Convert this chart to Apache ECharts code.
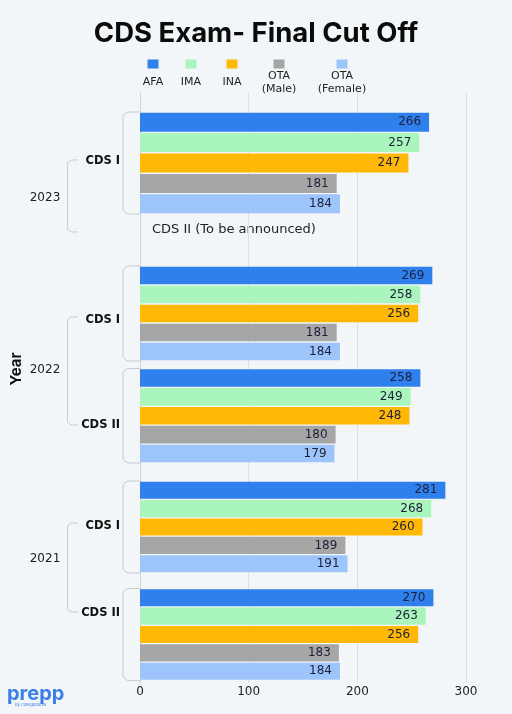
<!DOCTYPE html>
<html>
<head>
<meta charset="utf-8">
<script src="https://cdn.jsdelivr.net/npm/echarts@6/dist/echarts.min.js"></script>
<style>
html,body{margin:0;padding:0;background:#f2f6f9;}
#c{width:512px;height:714px;}
</style>
</head>
<body>
<div id="c"></div>
<script>
// ---- data ----
const groups = ['2023 CDS I', '2022 CDS I', '2022 CDS II', '2021 CDS I', '2021 CDS II'];
const seriesNames = ['AFA', 'IMA', 'INA', 'OTA (Male)', 'OTA (Female)'];
const AFA   = [266, 269, 258, 281, 270];
const IMA   = [257, 258, 249, 268, 263];
const INA   = [247, 256, 248, 260, 256];
const OTA_M = [181, 181, 180, 189, 183];
const OTA_F = [184, 184, 179, 191, 184];
const xTicks = [0, 100, 200, 300];
const years = ['2023', '2022', '2021'];
const examLabels = ['CDS I', 'CDS I', 'CDS II', 'CDS I', 'CDS II'];
const pendingNote = 'CDS II (To be announced)';

// ---- style / layout ----
const values = [AFA, IMA, INA, OTA_M, OTA_F];
const colors = ['#2f80ed', '#a9f5bb', '#ffb904', '#a6a6a6', '#9dc4fb'];
const FONT = 'Inter, "Noto Sans", sans-serif';
const SFONT = '"DejaVu Sans", "Noto Sans", sans-serif';
const PLOT_L = 140, PLOT_R = 46;
const groupBoxes = [[112, 102], [266, 95], [368.5, 94.5], [481, 92], [588.5, 92]];
const legendCenters = [153, 191, 232, 279, 342];

const chart = echarts.init(document.getElementById('c'), null, {renderer: 'canvas', width: 512, height: 714});

const grids = [{left: PLOT_L, right: PLOT_R, top: 93, bottom: 31}];
const xAxes = [{
  gridIndex: 0, type: 'value', min: xTicks[0], max: xTicks[xTicks.length - 1], interval: 100,
  axisLine: {show: false}, axisTick: {show: false},
  axisLabel: {color: '#222', fontSize: 12, fontFamily: SFONT, margin: 3},
  splitLine: {show: true, lineStyle: {color: '#dde1e6', width: 1}}
}];
const yAxes = [{
  gridIndex: 0, type: 'value', min: 0, max: 1,
  axisLine: {show: true, lineStyle: {color: '#cfd4d9'}},
  axisTick: {show: false}, axisLabel: {show: false}, splitLine: {show: false}
}];
const series = [];

groupBoxes.forEach((b, g) => {
  grids.push({left: PLOT_L, right: PLOT_R, top: b[0], height: b[1]});
  xAxes.push({gridIndex: g + 1, type: 'value', min: 0, max: 300, show: false, splitLine: {show: false}});
  yAxes.push({gridIndex: g + 1, type: 'category', data: seriesNames, inverse: true, show: false});
  seriesNames.forEach((name, s) => {
    series.push({
      type: 'bar', name: name, xAxisIndex: g + 1, yAxisIndex: g + 1,
      data: seriesNames.map((_, i) => i === s ? values[s][g] : '-'),
      barGap: '-100%', barWidth: '93%',
      itemStyle: {color: colors[s]},
      label: {show: true, position: 'insideRight', distance: 8, color: '#1d1f3a', fontSize: 12, fontFamily: SFONT}
    });
  });
});

const legends = seriesNames.map((name, s) => ({
  data: [name], left: legendCenters[s] - 35, top: 58.5, padding: 0,
  itemWidth: 0, itemHeight: 0, icon: 'rect', selectedMode: false,
  formatter: n => {
    const p = n.split(' ');
    return p.length === 1 ? '{sq| }\n{one|' + n + '}' : '{sq| }\n{t|' + p[0] + '}\n{t|' + p[1] + '}';
  },
  textStyle: {
    fontFamily: SFONT, fontSize: 11, color: '#222',
    rich: {
      sq: {width: 11, height: 9, lineHeight: 11, backgroundColor: colors[s], align: 'center'},
      t: {width: 60, lineHeight: 13, align: 'center', fontSize: 11, color: '#222', fontFamily: SFONT},
      one: {width: 60, lineHeight: 26, align: 'center', fontSize: 11, color: '#222', fontFamily: SFONT}
    }
  }
}));

// ---- multi-level axis decorations ----
const BR = '#c6cbd1';
const lineStyle = {stroke: BR, lineWidth: 1, fill: null};
function bracket(x0, x1, y0, y1, r) {
  return [
    {type: 'line', silent: true, shape: {x1: x0 + r, y1: y0, x2: x1, y2: y0}, style: lineStyle},
    {type: 'arc', silent: true, shape: {cx: x0 + r, cy: y0 + r, r: r, startAngle: Math.PI, endAngle: Math.PI * 1.5}, style: lineStyle},
    {type: 'line', silent: true, shape: {x1: x0, y1: y0 + r, x2: x0, y2: y1 - r}, style: lineStyle},
    {type: 'arc', silent: true, shape: {cx: x0 + r, cy: y1 - r, r: r, startAngle: Math.PI / 2, endAngle: Math.PI}, style: lineStyle},
    {type: 'line', silent: true, shape: {x1: x0 + r, y1: y1, x2: x1, y2: y1}, style: lineStyle}
  ];
}
const graphics = [];
groupBoxes.forEach(b => graphics.push(...bracket(123, 140, b[0], b[0] + b[1], 6)));
const yearBrackets = [[160, 232], [317, 425], [523, 612]];
yearBrackets.forEach(yb => graphics.push(...bracket(67.5, 78, yb[0], yb[1], 5)));
const examLabelY = [161, 320, 425.5, 526.5, 613];
examLabels.forEach((t, i) => graphics.push({
  type: 'text', silent: true, x: 120, y: examLabelY[i],
  style: {text: t, font: 'bold 11.5px ' + SFONT, fill: '#111', textAlign: 'right', textVerticalAlign: 'middle'}
}));
const yearY = [198, 370, 559];
years.forEach((t, i) => graphics.push({
  type: 'text', silent: true, x: 45, y: yearY[i],
  style: {text: t, font: '12px ' + SFONT, fill: '#222', textAlign: 'center', textVerticalAlign: 'middle'}
}));
graphics.push({
  type: 'text', silent: true, x: 16, y: 369, rotation: Math.PI / 2,
  style: {text: 'Year', font: 'bold 15px ' + FONT, fill: '#111', textAlign: 'center', textVerticalAlign: 'middle'}
});
graphics.push({
  type: 'text', silent: true, x: 152, y: 230,
  style: {text: pendingNote, font: '13px ' + SFONT, fill: '#222', textAlign: 'left', textVerticalAlign: 'middle'}
});
graphics.push({
  type: 'text', silent: true, x: 7, y: 694,
  style: {text: 'prepp', font: 'bold 20px ' + FONT, fill: '#3b7fe6', textAlign: 'left', textVerticalAlign: 'middle'}
});
graphics.push({
  type: 'text', silent: true, x: 15, y: 704.5,
  style: {text: 'By Collegedunia', font: '4px ' + FONT, fill: '#3b7fe6', textAlign: 'left', textVerticalAlign: 'middle'}
});

chart.setOption({
  backgroundColor: '#f2f6f9',
  animation: false,
  title: {
    text: 'CDS Exam- Final Cut Off', left: 'center', top: 15,
    textStyle: {fontFamily: FONT, fontSize: 27.5, fontWeight: 'bold', color: '#0b0b0b'}
  },
  legend: legends,
  grid: grids,
  xAxis: xAxes,
  yAxis: yAxes,
  series: series,
  graphic: graphics
});
</script>
</body>
</html>
